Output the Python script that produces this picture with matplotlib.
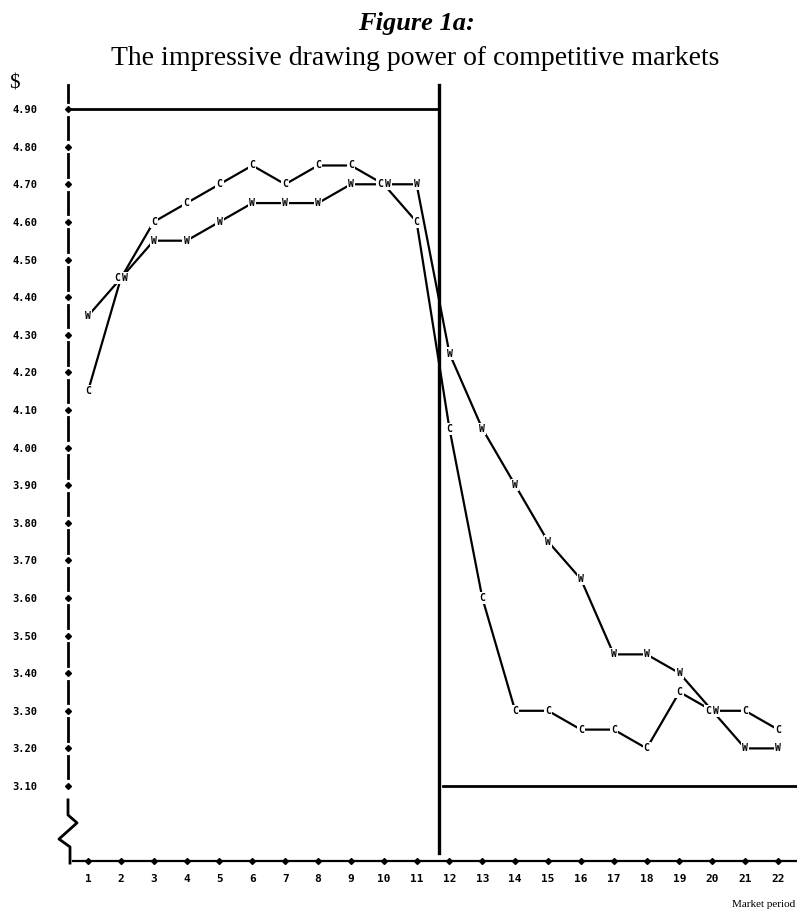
import matplotlib
matplotlib.use('Agg')
import matplotlib.pyplot as plt
from matplotlib.transforms import offset_copy

# 市場期數與兩組價格 (C, W)
periods = list(range(1, 23))
price_c = [4.15, 4.45, 4.60, 4.65, 4.70, 4.75, 4.70, 4.75, 4.75, 4.70, 4.60,
           4.05, 3.60, 3.30, 3.30, 3.25, 3.25, 3.20, 3.35, 3.30, 3.30, 3.25]
price_w = [4.35, 4.45, 4.55, 4.55, 4.60, 4.65, 4.65, 4.65, 4.70, 4.70, 4.70,
           4.25, 4.05, 3.90, 3.75, 3.65, 3.45, 3.45, 3.40, 3.30, 3.20, 3.20]
y_ticks = [3.10, 3.20, 3.30, 3.40, 3.50, 3.60, 3.70, 3.80, 3.90, 4.00,
           4.10, 4.20, 4.30, 4.40, 4.50, 4.60, 4.70, 4.80, 4.90]
upper_level = 4.90
lower_level = 3.10
switch_period = 11.67

X0, X1 = 0.391, 22.576
Y0, Y1 = 2.9006, 4.964

fig = plt.figure(figsize=(7.97, 9.11), dpi=100)
ax = fig.add_axes([68 / 797, 50 / 911, 729 / 797, 776 / 911])
ax.set_xlim(X0, X1)
ax.set_ylim(Y0, Y1)
for s in ax.spines.values():
    s.set_visible(False)

mono = {'family': 'DejaVu Sans Mono', 'weight': 'bold'}
ax.set_yticks(y_ticks)
ax.set_yticklabels(['%.2f' % t for t in y_ticks], fontdict=dict(mono, size=7.5))
ax.set_xticks(periods)
ax.set_xticklabels([str(p) for p in periods], fontdict=dict(mono, size=8))
ax.tick_params(axis='y', length=0, pad=22)
ax.tick_params(axis='x', length=0, pad=9)

# 左邊的縱軸: 刻度之間的短線 + 菱形刻度
for t in y_ticks[:-1]:
    ax.plot([X0, X0], [t + 0.02, t + 0.08], color='black', lw=2, clip_on=False)
ax.plot([X0, X0], [4.92, Y1], color='black', lw=2, clip_on=False)
ax.plot([X0] * len(y_ticks), y_ticks, 'D', color='black', ms=3, clip_on=False)
# 軸斷開的鋸齒
brk_x = [X0, X0, 0.665, 0.117, 0.452, 0.452]
brk_y = [3.063, 3.023, 3.002, 2.959, 2.938, 2.895]
ax.plot(brk_x, brk_y, color='black', lw=2, clip_on=False)

# 橫軸
ax.plot([0.543, X1], [Y0, Y0], color='black', lw=1.6, clip_on=False)
ax.plot(periods, [Y0] * len(periods), 'D', color='black', ms=3, clip_on=False)

# 參考線
ax.plot([X0, switch_period], [upper_level, upper_level], color='black', lw=2)
ax.plot([switch_period + 0.13, X1], [lower_level, lower_level], color='black', lw=2)
ax.plot([switch_period, switch_period], [2.922, Y1], color='black', lw=2.4, clip_on=False)

# 資料線
ax.plot(periods, price_c, color='black', lw=1.6, zorder=3)
ax.plot(periods, price_w, color='black', lw=1.6, zorder=3)

left_shift = offset_copy(ax.transData, fig=fig, x=-2.7, y=0, units='points')
right_shift = offset_copy(ax.transData, fig=fig, x=2.7, y=0, units='points')
box = dict(boxstyle='square,pad=0.12', fc='white', ec='none')
for p, c, w in zip(periods, price_c, price_w):
    same = abs(c - w) < 1e-9
    ax.text(p, w, 'W', ha='center', va='center', fontdict=dict(mono, size=7),
            transform=right_shift if same else ax.transData, bbox=box, zorder=4)
    ax.text(p, c, 'C', ha='center', va='center', fontdict=dict(mono, size=7),
            transform=left_shift if same else ax.transData, bbox=box, zorder=5)

# 標題與其他文字
fig.text(416 / 797, 1 - 30 / 911, 'Figure 1a:', ha='center', va='baseline',
         family='Liberation Serif', weight='bold', style='italic', size=19)
fig.text(415 / 797, 1 - 65 / 911, 'The impressive drawing power of competitive markets',
         ha='center', va='baseline', family='Liberation Serif', size=20)
fig.text(9 / 797, 1 - 88 / 911, '$', ha='left', va='baseline',
         family='Liberation Serif', size=15)
fig.text(795 / 797, 1 - 909 / 911, 'Market period', ha='right', va='bottom',
         family='Liberation Serif', size=8)

fig.savefig('out.png', dpi=100)
